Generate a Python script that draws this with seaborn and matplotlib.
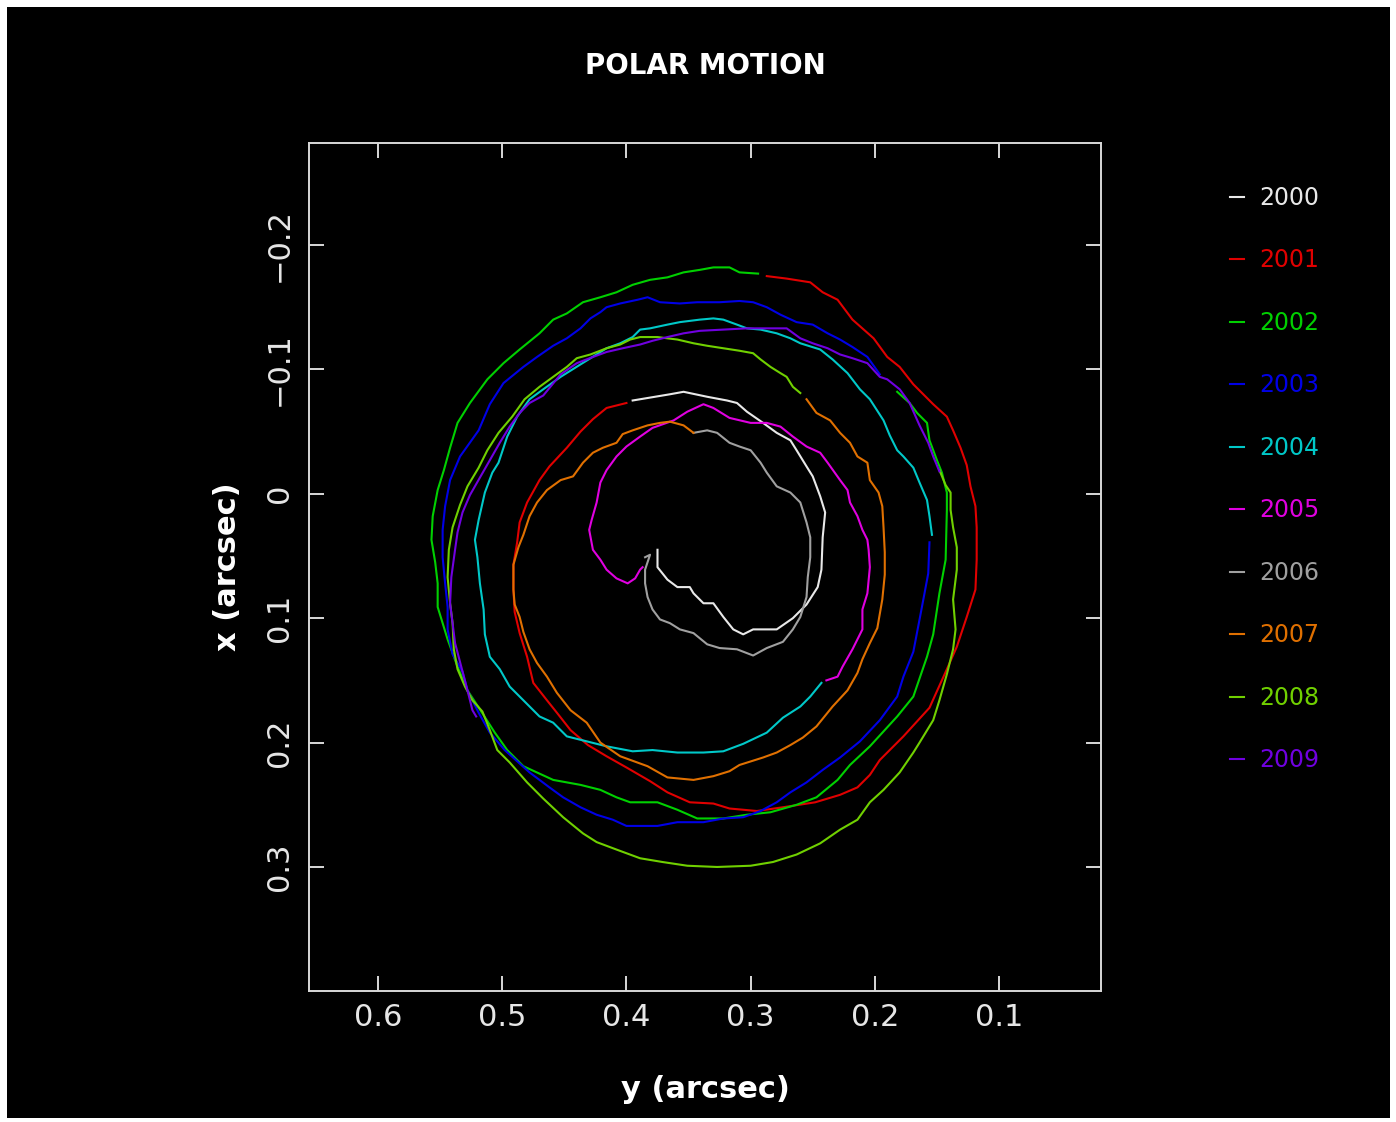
import numpy as np
import pandas as pd
import matplotlib
matplotlib.use("Agg")
import matplotlib.pyplot as plt
import seaborn as sns
from matplotlib.patches import Rectangle

# ---------------- data (y = horizontal, x = vertical, arcsec) ----------------
years = ["2000", "2001", "2002", "2003", "2004", "2005", "2006", "2007", "2008", "2009"]
colors = ["#e8e8e8", "#e00000", "#00d000", "#0000e6", "#00c8c8",
          "#e000e0", "#a0a0a0", "#e07000", "#70d000", "#7000e0"]

y2000 = [0.375, 0.375, 0.367, 0.359, 0.349, 0.346, 0.338, 0.330, 0.322, 0.314, 0.306, 0.298,
         0.279, 0.266, 0.255, 0.246, 0.243, 0.242, 0.240, 0.244, 0.250, 0.255, 0.263, 0.268,
         0.279, 0.290, 0.303, 0.311, 0.319, 0.335, 0.354, 0.365, 0.383, 0.395]
x2000 = [0.045, 0.059, 0.069, 0.075, 0.075, 0.080, 0.088, 0.088, 0.099, 0.109, 0.113, 0.109,
         0.109, 0.100, 0.089, 0.075, 0.061, 0.035, 0.015, 0.002, -0.014, -0.022, -0.035, -0.043,
         -0.049, -0.057, -0.066, -0.073, -0.075, -0.078, -0.082, -0.080, -0.077, -0.075]

y2001 = [0.400, 0.416, 0.427, 0.437, 0.448, 0.462, 0.470, 0.480, 0.486, 0.488, 0.491, 0.491,
         0.490, 0.486, 0.480, 0.475, 0.464, 0.456, 0.445, 0.431, 0.416, 0.400, 0.381, 0.367,
         0.349, 0.330, 0.317, 0.295, 0.274, 0.248, 0.228, 0.214, 0.204, 0.196, 0.177, 0.156,
         0.142, 0.134, 0.126, 0.119, 0.118, 0.118, 0.119, 0.123, 0.126, 0.131, 0.137, 0.142,
         0.153, 0.169, 0.180, 0.190, 0.201, 0.218, 0.230, 0.242, 0.252, 0.271, 0.287]
x2001 = [-0.073, -0.069, -0.060, -0.050, -0.037, -0.022, -0.011, 0.007, 0.023, 0.039, 0.057, 0.077,
         0.095, 0.112, 0.131, 0.152, 0.166, 0.176, 0.190, 0.202, 0.211, 0.220, 0.231, 0.240,
         0.248, 0.249, 0.253, 0.255, 0.252, 0.248, 0.242, 0.236, 0.226, 0.214, 0.195, 0.172,
         0.141, 0.123, 0.099, 0.077, 0.053, 0.027, 0.010, -0.006, -0.023, -0.037, -0.051, -0.062,
         -0.072, -0.088, -0.102, -0.110, -0.125, -0.140, -0.156, -0.162, -0.170, -0.173, -0.175]

y2002 = [0.294, 0.309, 0.317, 0.330, 0.341, 0.354, 0.367, 0.381, 0.395, 0.408, 0.421, 0.435,
         0.448, 0.459, 0.470, 0.486, 0.499, 0.512, 0.526, 0.536, 0.542, 0.547, 0.552, 0.556,
         0.557, 0.554, 0.552, 0.552, 0.548, 0.544, 0.536, 0.528, 0.515, 0.506, 0.496, 0.483,
         0.459, 0.437, 0.421, 0.408, 0.397, 0.375, 0.359, 0.343, 0.322, 0.303, 0.284, 0.263,
         0.247, 0.230, 0.220, 0.204, 0.182, 0.169, 0.158, 0.153, 0.148, 0.143, 0.142, 0.142,
         0.146, 0.150, 0.156, 0.158, 0.166, 0.172, 0.182]
x2002 = [-0.177, -0.178, -0.182, -0.182, -0.180, -0.178, -0.174, -0.172, -0.168, -0.162, -0.158, -0.154,
         -0.145, -0.140, -0.129, -0.116, -0.105, -0.092, -0.073, -0.057, -0.037, -0.019, -0.003, 0.018,
         0.037, 0.055, 0.072, 0.091, 0.104, 0.117, 0.139, 0.158, 0.178, 0.192, 0.206, 0.219,
         0.230, 0.234, 0.238, 0.244, 0.248, 0.248, 0.254, 0.261, 0.261, 0.258, 0.256, 0.250,
         0.244, 0.230, 0.218, 0.203, 0.179, 0.163, 0.131, 0.113, 0.080, 0.053, 0.013, -0.001,
         -0.017, -0.027, -0.043, -0.057, -0.065, -0.073, -0.082]

y2003 = [0.196, 0.206, 0.218, 0.228, 0.238, 0.250, 0.263, 0.276, 0.287, 0.298, 0.309, 0.325,
         0.343, 0.357, 0.373, 0.383, 0.391, 0.405, 0.416, 0.421, 0.429, 0.437, 0.448, 0.459,
         0.472, 0.483, 0.499, 0.510, 0.519, 0.534, 0.542, 0.546, 0.548, 0.548, 0.546, 0.544,
         0.544, 0.540, 0.532, 0.528, 0.519, 0.510, 0.498, 0.478, 0.462, 0.451, 0.437, 0.424,
         0.411, 0.400, 0.375, 0.359, 0.338, 0.322, 0.306, 0.292, 0.279, 0.268, 0.255, 0.242,
         0.228, 0.212, 0.196, 0.182, 0.177, 0.169, 0.164, 0.160, 0.157, 0.156]
x2003 = [-0.096, -0.110, -0.118, -0.124, -0.129, -0.136, -0.138, -0.144, -0.150, -0.154, -0.155, -0.154,
         -0.154, -0.153, -0.154, -0.158, -0.156, -0.153, -0.150, -0.146, -0.141, -0.133, -0.125, -0.119,
         -0.110, -0.102, -0.089, -0.072, -0.051, -0.030, -0.011, 0.010, 0.029, 0.051, 0.072, 0.091,
         0.109, 0.129, 0.143, 0.158, 0.176, 0.192, 0.206, 0.224, 0.236, 0.244, 0.252, 0.258,
         0.262, 0.267, 0.267, 0.264, 0.264, 0.261, 0.260, 0.255, 0.248, 0.240, 0.232, 0.222,
         0.212, 0.199, 0.182, 0.163, 0.147, 0.127, 0.101, 0.080, 0.064, 0.039]

y2004 = [0.154, 0.156, 0.158, 0.164, 0.169, 0.177, 0.182, 0.188, 0.193, 0.204, 0.212, 0.222,
         0.234, 0.244, 0.260, 0.268, 0.279, 0.292, 0.303, 0.311, 0.322, 0.330, 0.341, 0.357,
         0.367, 0.381, 0.389, 0.395, 0.405, 0.416, 0.437, 0.453, 0.467, 0.478, 0.488, 0.496,
         0.503, 0.508, 0.514, 0.519, 0.522, 0.520, 0.518, 0.515, 0.514, 0.510, 0.502, 0.494,
         0.483, 0.470, 0.459, 0.448, 0.432, 0.416, 0.395, 0.379, 0.359, 0.338, 0.322, 0.306,
         0.287, 0.274, 0.260, 0.252, 0.243]
x2004 = [0.033, 0.018, 0.005, -0.009, -0.021, -0.030, -0.035, -0.047, -0.059, -0.076, -0.084, -0.097,
         -0.108, -0.116, -0.121, -0.125, -0.129, -0.132, -0.133, -0.136, -0.140, -0.141, -0.140, -0.138,
         -0.136, -0.133, -0.132, -0.126, -0.121, -0.117, -0.104, -0.094, -0.084, -0.076, -0.062, -0.046,
         -0.025, -0.017, -0.001, 0.021, 0.037, 0.051, 0.072, 0.093, 0.113, 0.131, 0.141, 0.155,
         0.166, 0.179, 0.184, 0.195, 0.199, 0.203, 0.207, 0.206, 0.208, 0.208, 0.207, 0.201,
         0.192, 0.180, 0.171, 0.163, 0.152]

y2005 = [0.239, 0.230, 0.226, 0.218, 0.214, 0.210, 0.210, 0.206, 0.204, 0.205, 0.206, 0.210,
         0.214, 0.220, 0.222, 0.228, 0.238, 0.244, 0.255, 0.266, 0.276, 0.287, 0.300, 0.317,
         0.330, 0.338, 0.351, 0.362, 0.379, 0.389, 0.400, 0.408, 0.416, 0.421, 0.424, 0.428,
         0.430, 0.427, 0.421, 0.416, 0.408, 0.399, 0.393, 0.389, 0.387]
x2005 = [0.150, 0.147, 0.139, 0.125, 0.117, 0.109, 0.093, 0.080, 0.059, 0.045, 0.037, 0.029,
         0.018, 0.007, -0.003, -0.011, -0.025, -0.033, -0.038, -0.046, -0.054, -0.057, -0.057, -0.061,
         -0.069, -0.072, -0.066, -0.059, -0.053, -0.046, -0.038, -0.030, -0.019, -0.009, 0.007, 0.021,
         0.029, 0.045, 0.053, 0.061, 0.068, 0.072, 0.068, 0.061, 0.059]

y2006 = [0.385, 0.381, 0.385, 0.385, 0.383, 0.379, 0.373, 0.365, 0.357, 0.346, 0.335, 0.325,
         0.311, 0.298, 0.287, 0.274, 0.266, 0.260, 0.255, 0.254, 0.252, 0.252, 0.255, 0.260,
         0.268, 0.279, 0.287, 0.292, 0.300, 0.309, 0.317, 0.327, 0.335, 0.346]
x2006 = [0.051, 0.049, 0.061, 0.072, 0.083, 0.093, 0.101, 0.104, 0.109, 0.112, 0.121, 0.124,
         0.125, 0.130, 0.124, 0.119, 0.109, 0.099, 0.083, 0.067, 0.051, 0.035, 0.023, 0.007,
         -0.001, -0.006, -0.017, -0.025, -0.035, -0.038, -0.041, -0.049, -0.051, -0.049]

y2007 = [0.346, 0.354, 0.365, 0.373, 0.383, 0.395, 0.403, 0.408, 0.419, 0.427, 0.435, 0.443,
         0.453, 0.464, 0.472, 0.478, 0.483, 0.487, 0.491, 0.491, 0.490, 0.486, 0.483, 0.478,
         0.472, 0.464, 0.456, 0.445, 0.432, 0.421, 0.405, 0.383, 0.367, 0.346, 0.330, 0.317,
         0.309, 0.290, 0.279, 0.268, 0.258, 0.247, 0.234, 0.222, 0.214, 0.210, 0.204, 0.198,
         0.194, 0.192, 0.192, 0.193, 0.194, 0.197, 0.204, 0.206, 0.214, 0.220, 0.228, 0.236,
         0.247, 0.255]
x2007 = [-0.049, -0.055, -0.058, -0.057, -0.055, -0.051, -0.048, -0.041, -0.037, -0.033, -0.025, -0.014,
         -0.011, -0.003, 0.007, 0.018, 0.033, 0.043, 0.057, 0.077, 0.089, 0.099, 0.111, 0.125,
         0.136, 0.147, 0.160, 0.174, 0.184, 0.200, 0.211, 0.219, 0.228, 0.230, 0.227, 0.223,
         0.218, 0.212, 0.208, 0.202, 0.196, 0.187, 0.171, 0.158, 0.144, 0.133, 0.120, 0.108,
         0.085, 0.065, 0.047, 0.027, 0.010, -0.001, -0.011, -0.025, -0.030, -0.041, -0.049, -0.059,
         -0.065, -0.076]

y2008 = [0.260, 0.266, 0.271, 0.276, 0.284, 0.292, 0.298, 0.309, 0.322, 0.335, 0.346, 0.359,
         0.375, 0.389, 0.397, 0.405, 0.416, 0.429, 0.440, 0.448, 0.459, 0.470, 0.482, 0.492,
         0.503, 0.512, 0.519, 0.528, 0.534, 0.540, 0.543, 0.544, 0.542, 0.540, 0.539, 0.536,
         0.530, 0.524, 0.516, 0.510, 0.504, 0.494, 0.480, 0.467, 0.451, 0.435, 0.424, 0.408,
         0.389, 0.371, 0.351, 0.327, 0.300, 0.282, 0.263, 0.244, 0.228, 0.214, 0.204, 0.193,
         0.180, 0.169, 0.164, 0.153, 0.148, 0.142, 0.137, 0.135, 0.137, 0.134, 0.134, 0.137,
         0.139, 0.139, 0.143, 0.148]
x2008 = [-0.081, -0.086, -0.094, -0.097, -0.102, -0.108, -0.113, -0.115, -0.117, -0.119, -0.121, -0.124,
         -0.126, -0.126, -0.124, -0.120, -0.117, -0.112, -0.109, -0.102, -0.094, -0.086, -0.076, -0.062,
         -0.049, -0.035, -0.021, -0.006, 0.009, 0.027, 0.045, 0.067, 0.088, 0.104, 0.125, 0.141,
         0.155, 0.166, 0.175, 0.190, 0.206, 0.216, 0.232, 0.245, 0.260, 0.273, 0.280, 0.286,
         0.293, 0.296, 0.299, 0.300, 0.299, 0.296, 0.290, 0.281, 0.270, 0.262, 0.248, 0.238,
         0.224, 0.208, 0.200, 0.182, 0.166, 0.145, 0.125, 0.109, 0.085, 0.061, 0.043, 0.027,
         0.013, -0.001, -0.007, -0.019]

y2009 = [0.148, 0.153, 0.157, 0.164, 0.172, 0.180, 0.190, 0.196, 0.206, 0.218, 0.228, 0.238,
         0.250, 0.260, 0.271, 0.287, 0.303, 0.322, 0.341, 0.354, 0.367, 0.379, 0.389, 0.403,
         0.416, 0.427, 0.440, 0.453, 0.467, 0.478, 0.486, 0.494, 0.502, 0.510, 0.518, 0.526,
         0.532, 0.536, 0.538, 0.541, 0.542, 0.540, 0.538, 0.533, 0.528, 0.524, 0.521]
x2009 = [-0.018, -0.030, -0.041, -0.055, -0.073, -0.084, -0.092, -0.094, -0.105, -0.109, -0.112, -0.117,
         -0.121, -0.125, -0.133, -0.133, -0.133, -0.132, -0.131, -0.129, -0.126, -0.123, -0.120, -0.117,
         -0.114, -0.110, -0.105, -0.096, -0.079, -0.073, -0.065, -0.054, -0.041, -0.027, -0.013, 0.001,
         0.015, 0.031, 0.045, 0.067, 0.088, 0.104, 0.120, 0.139, 0.158, 0.174, 0.179]

xticks = [0.6, 0.5, 0.4, 0.3, 0.2, 0.1]
xticklabels = ["0.6", "0.5", "0.4", "0.3", "0.2", "0.1"]
yticks = [-0.2, -0.1, 0.0, 0.1, 0.2, 0.3]
yticklabels = ["\u22120.2", "\u22120.1", "0", "0.1", "0.2", "0.3"]

series_y = [y2000, y2001, y2002, y2003, y2004, y2005, y2006, y2007, y2008, y2009]
series_x = [x2000, x2001, x2002, x2003, x2004, x2005, x2006, x2007, x2008, x2009]

frames = []
for yr, ys, xs in zip(years, series_y, series_x):
    frames.append(pd.DataFrame({"y": ys, "x": xs, "year": yr}))
df = pd.concat(frames, ignore_index=True)

# ---------------- figure ----------------
plt.rcParams["font.family"] = ["DejaVu Sans"]
W, H = 1396, 1122
fig = plt.figure(figsize=(W / 100, H / 100), dpi=100)
fig.patch.set_facecolor("white")
fig.patches.append(Rectangle((7 / W, 4 / H), (1390 - 7) / W, (1115 - 4) / H,
                             transform=fig.transFigure, facecolor="black",
                             edgecolor="none", zorder=-10))

ax = fig.add_axes([309 / W, 1 - 991 / H, 792 / W, 848 / H])
ax.set_facecolor("black")

sns.lineplot(data=df, x="y", y="x", hue="year", hue_order=years,
             palette=dict(zip(years, colors)), sort=False, estimator=None,
             linewidth=1.5, ax=ax)

ax.set_xlim(0.6556, 0.0179)
ax.set_ylim(0.3997, -0.282)

ax.set_xticks(xticks)
ax.set_xticklabels(xticklabels)
ax.set_yticks(yticks)
ax.set_yticklabels(yticklabels)

edge = "#d8d8d8"
for s in ax.spines.values():
    s.set_color(edge)
    s.set_linewidth(1.4)
ax.tick_params(direction="in", length=11, width=1.4, color=edge,
               labelcolor="#e6e6e6", labelsize=22, top=True, right=True)
ax.tick_params(axis="x", pad=9)
ax.tick_params(axis="y", pad=11, labelrotation=90)
for lab in ax.get_yticklabels():
    lab.set_va("center")

ax.set_xlabel("y (arcsec)", fontsize=22, fontweight="bold", color="white")
ax.xaxis.set_label_coords(0.5, -(1090 - 991) / 848)
ax.xaxis.label.set_va("center")
ax.set_ylabel("x (arcsec)", fontsize=22, fontweight="bold", color="white")
ax.yaxis.set_label_coords((228 - 309) / 792, 0.5)
ax.yaxis.label.set_va("center")
ax.yaxis.label.set_ha("center")

t = ax.set_title("POLAR MOTION", fontsize=20, fontweight="bold", color="white",
                 y=1 + (143 - 66) / 848, pad=0)
t.set_va("center")

handles, labels = ax.get_legend_handles_labels()
leg = ax.legend(handles, labels, loc="upper left",
                bbox_to_anchor=(1230 / W, 1 - 186 / H), bbox_transform=fig.transFigure,
                frameon=False, fontsize=17, handlelength=0.6, handletextpad=0.65,
                labelspacing=1.63, borderpad=0, borderaxespad=0, labelcolor="linecolor")
for ln in leg.get_lines():
    ln.set_linewidth(1.5)

fig.savefig("out.png", dpi=100, facecolor=fig.get_facecolor())
